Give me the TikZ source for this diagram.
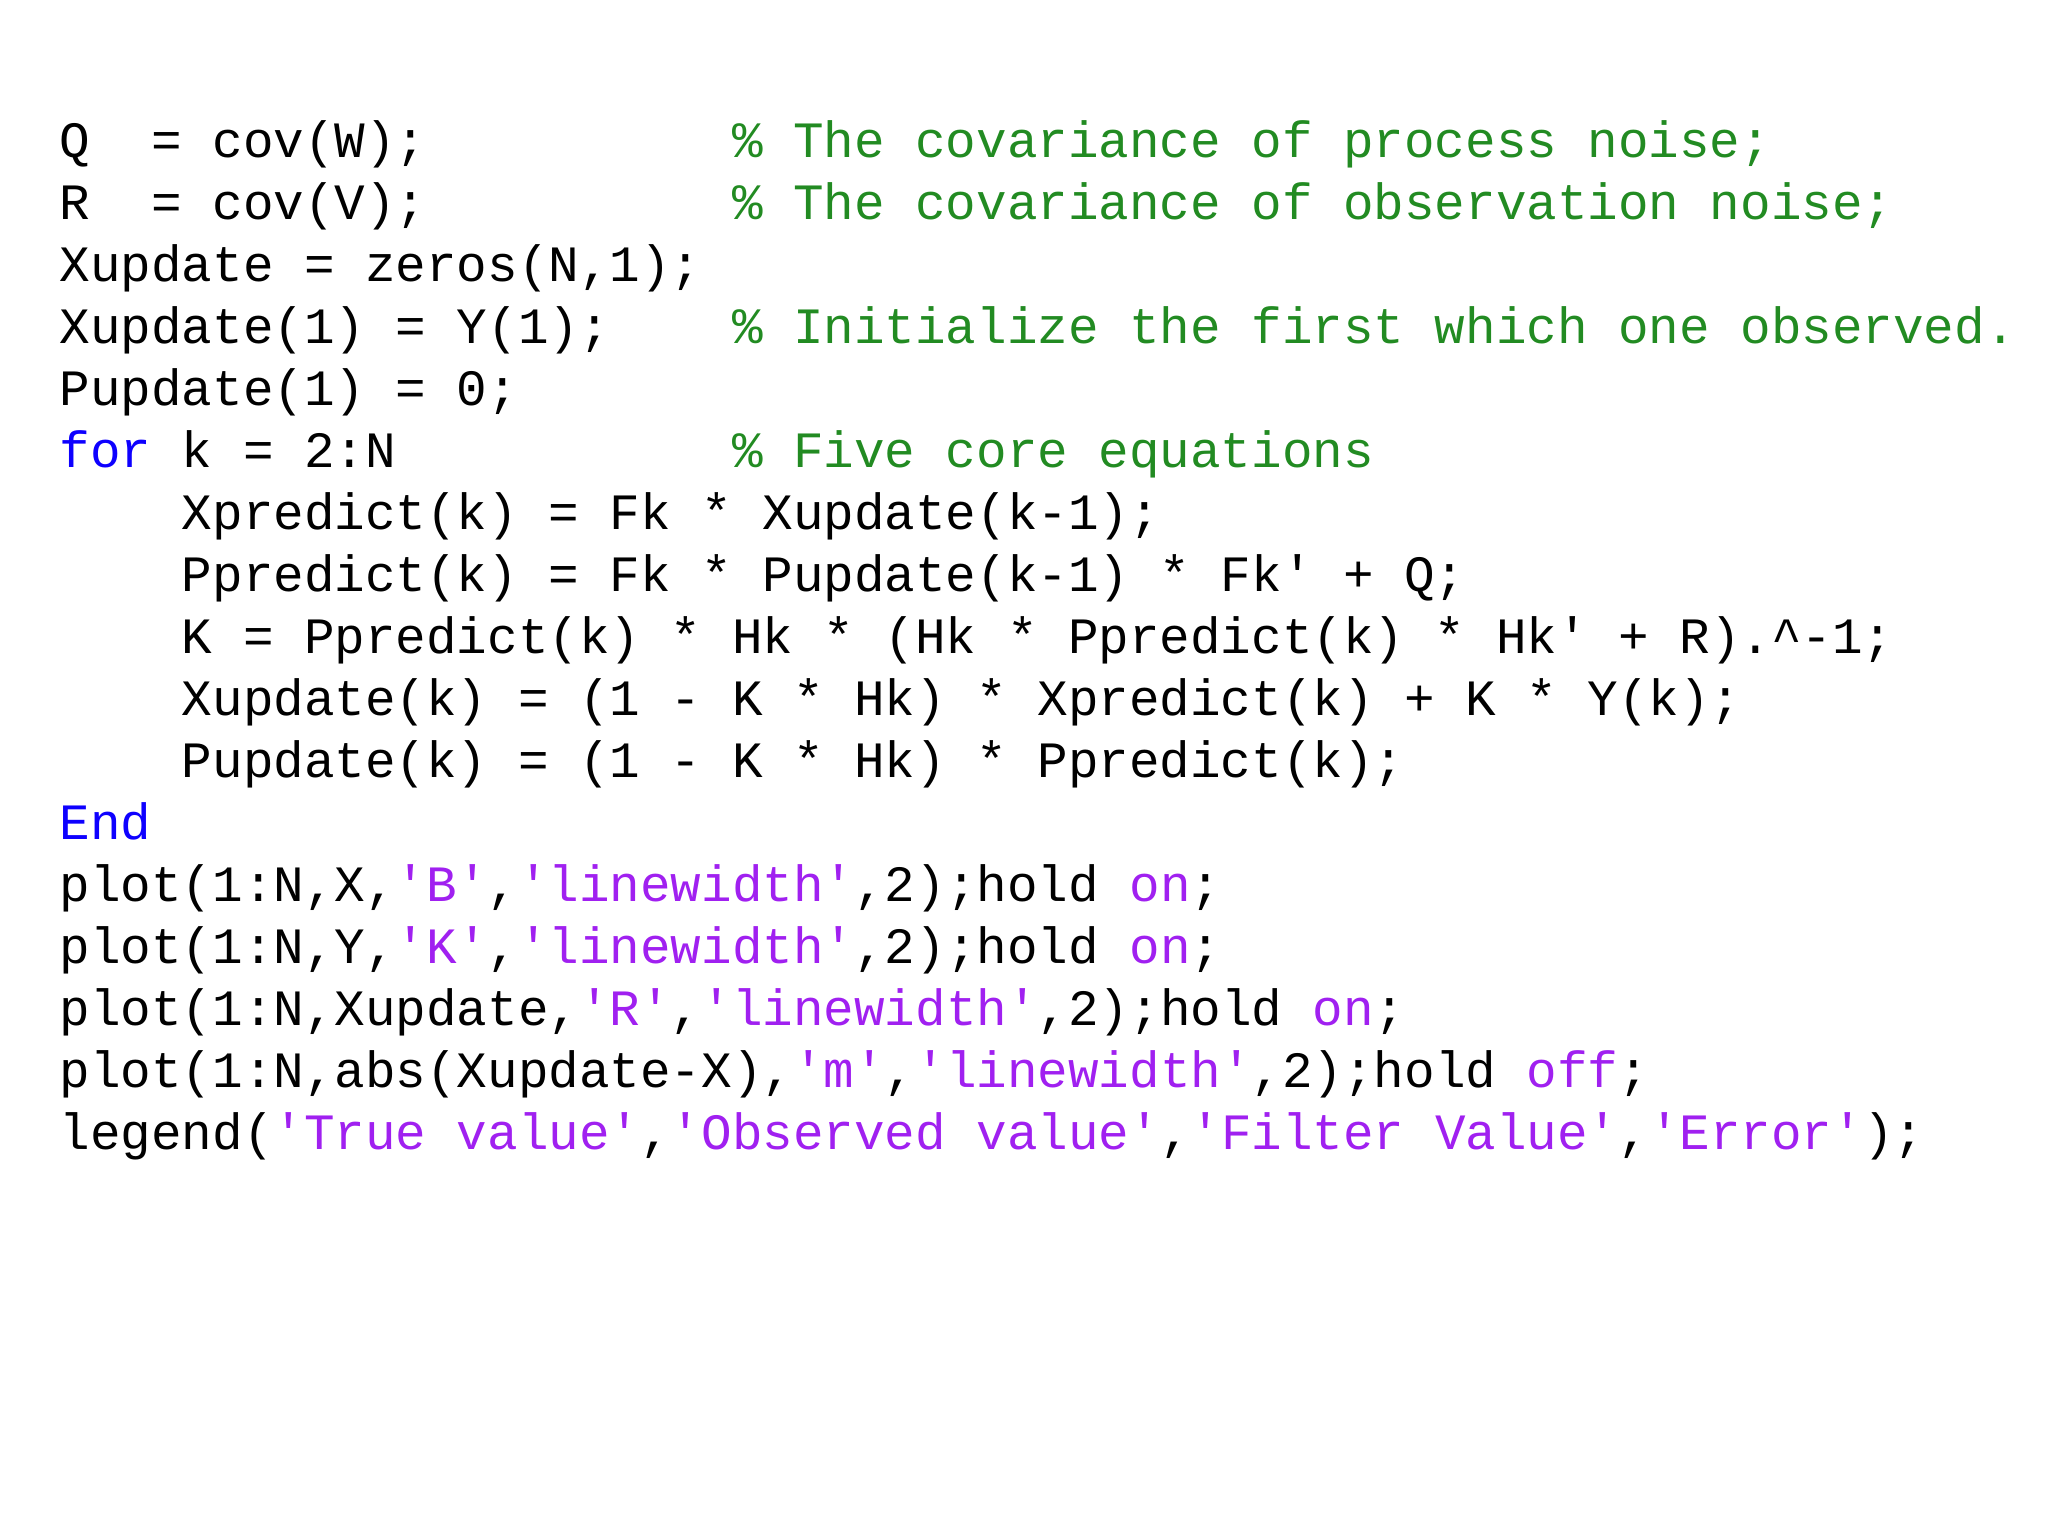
\documentclass[tikz,border=0pt]{standalone}
\usepackage{fontspec}
\newfontfamily\code{Liberation Mono}
\definecolor{kw}{RGB}{14,0,255}
\definecolor{cm}{RGB}{34,139,34}
\definecolor{st}{RGB}{160,32,240}
\newcommand{\q}{\char39 }
\newcommand{\s}[1]{\textcolor{st}{#1}}
\tikzset{ln/.style={anchor=base west,inner sep=0pt,font=\code\fontsize{38.6pt}{47pt}\selectfont}}
\begin{document}
\begin{tikzpicture}[x=1pt,y=-1pt]
\useasboundingbox (0,0) rectangle (1552,1164);
\def\cw{23.16}
\def\L#1{#1*47+119}
\node[ln] (l1) at (45,{\L0}) {Q\ \ = cov(W);};
\node[ln,text=cm] (c1) at ({45+22*\cw},{\L0}) {\% The covariance of process noise;};
\node[ln] (l2) at (45,{\L1}) {R\ \ = cov(V);};
\node[ln,text=cm] (c2) at ({45+22*\cw},{\L1}) {\% The covariance of observation noise;};
\node[ln] (l3) at (45,{\L2}) {Xupdate = zeros(N,1);};
\node[ln] (l4) at (45,{\L3}) {Xupdate(1) = Y(1);};
\node[ln,text=cm] (c4) at ({45+22*\cw},{\L3}) {\% Initialize the first which one observed.};
\node[ln] (l5) at (45,{\L4}) {Pupdate(1) = 0;};
\node[ln,text=kw] (l6) at (45,{\L5}) {for};
\node[ln] (l6b) at ({45+4*\cw},{\L5}) {k = 2:N};
\node[ln,text=cm] (c6) at ({45+22*\cw},{\L5}) {\% Five core equations};
\node[ln] (l7) at ({45+4*\cw},{\L6}) {Xpredict(k) = Fk * Xupdate(k-1);};
\node[ln] (l8) at ({45+4*\cw},{\L7}) {Ppredict(k) = Fk * Pupdate(k-1) * Fk\q\ + Q;};
\node[ln] (l9) at ({45+4*\cw},{\L8}) {K = Ppredict(k) * Hk * (Hk * Ppredict(k) * Hk\q\ + R).\textasciicircum-1;};
\node[ln] (l10) at ({45+4*\cw},{\L9}) {Xupdate(k) = (1 - K * Hk) * Xpredict(k) + K * Y(k);};
\node[ln] (l11) at ({45+4*\cw},{\L{10}}) {Pupdate(k) = (1 - K * Hk) * Ppredict(k);};
\node[ln,text=kw] (l12) at (45,{\L{11}}) {End};
\node[ln] (l13) at (45,{\L{12}}) {plot(1:N,X,\s{\q B\q},\s{\q linewidth\q},2);hold \s{on};};
\node[ln] (l14) at (45,{\L{13}}) {plot(1:N,Y,\s{\q K\q},\s{\q linewidth\q},2);hold \s{on};};
\node[ln] (l15) at (45,{\L{14}}) {plot(1:N,Xupdate,\s{\q R\q},\s{\q linewidth\q},2);hold \s{on};};
\node[ln] (l16) at (45,{\L{15}}) {plot(1:N,abs(Xupdate-X),\s{\q m\q},\s{\q linewidth\q},2);hold \s{off};};
\node[ln] (l17) at (45,{\L{16}}) {legend(\s{\q True value\q},\s{\q Observed value\q},\s{\q Filter Value\q},\s{\q Error\q});};
\end{tikzpicture}
\end{document}
